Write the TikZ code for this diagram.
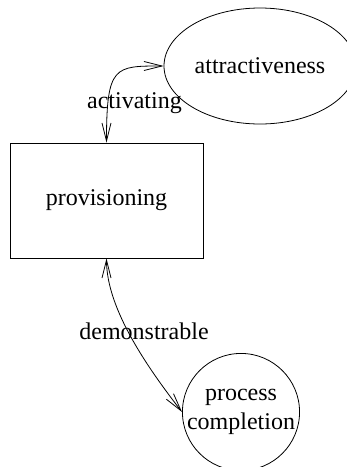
\documentclass[tikz,border=0pt]{standalone}
\usepackage{fontspec}
\setmainfont{Liberation Serif}
\usepackage{tikz}
\usetikzlibrary{arrows.meta,shapes.geometric,positioning}
\tikzset{
  plain line/.style = {line width=0.8pt, black},
  state box/.style  = {draw, plain line, rectangle, minimum width=193pt,
                       minimum height=115pt, inner sep=0pt},
  state oval/.style = {draw, plain line, ellipse, minimum width=192pt,
                       minimum height=116pt, inner sep=0pt},
  state disc/.style = {draw, plain line, circle, minimum size=116pt,
                       inner sep=0pt, align=center},
  link/.style       = {plain line, {Straight Barb[length=18pt,width=9pt]}-{Straight Barb[length=18pt,width=9pt]}},
  link label/.style = {inner sep=0pt},
}

\begin{document}
\begin{tikzpicture}[x=1pt, y=-1pt, font=\fontsize{24}{29}\selectfont]
    \useasboundingbox (0,0) rectangle (347,467);
    \node[state box]  (prov) at (106.5,200.5) {provisioning};
    \node[state oval] (attr) at (260,66) {attractiveness};
    \node[state disc] (proc) at (241,412) {process\\completion};
    % connectors
    \draw[link] (prov.north) .. controls +(0,-77) and +(-49,0) .. (attr.west);
    \draw[link] (prov.south) .. controls +(0,50) and +(-35,-45) .. (proc.west);
    \node[link label] (actlab) at (134.5,103) {activating};
    \node[link label] (demlab) at (144,331) {demonstrable};
  \end{tikzpicture}
\end{document}
